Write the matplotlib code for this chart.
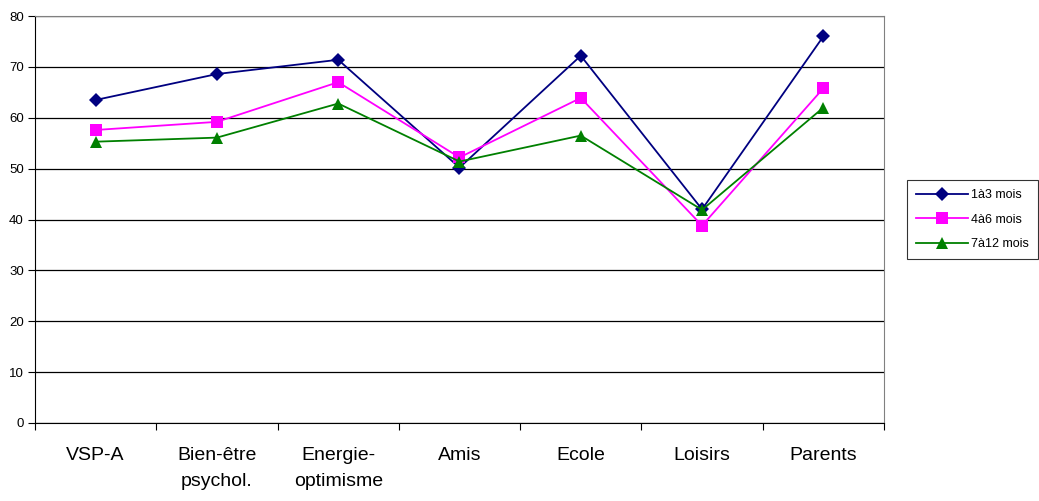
import matplotlib.pyplot as plt
import numpy as np

plt.rcParams['font.family'] = ['Liberation Sans', 'DejaVu Sans']

categories = ["VSP-A", "Bien-être\npsychol.", "Energie-\noptimisme", "Amis",
              "Ecole", "Loisirs", "Parents"]
series_names = ["1à3 mois", "4à6 mois", "7à12 mois"]
m1_3 = [63.5, 68.6, 71.4, 50.2, 72.2, 42.0, 76.0]
m4_6 = [57.6, 59.2, 67.0, 52.2, 63.9, 38.8, 65.8]
m7_12 = [55.3, 56.1, 62.8, 51.4, 56.5, 41.9, 62.0]

colors = ['#000080', '#FF00FF', '#008000']
markers = ['D', 's', '^']
msizes = [7, 9, 9]

fig = plt.figure(figsize=(10.39, 5.01), dpi=100)
ax = fig.add_axes([0.0337, 0.1557, 0.8171, 0.8123])

x = np.arange(len(categories))
for vals, name, c, m, ms in zip([m1_3, m4_6, m7_12], series_names, colors, markers, msizes):
    ax.plot(x, vals, color=c, marker=m, markersize=ms, linewidth=1.3, label=name,
            markeredgewidth=0, zorder=3)

ax.set_xlim(-0.5, len(categories) - 0.5)
ax.set_ylim(0, 80)
ax.set_yticks(range(0, 81, 10))
ax.yaxis.grid(True, color='black', linewidth=0.9)
ax.set_axisbelow(True)
ax.tick_params(axis='y', labelsize=9.5, length=5, direction='out', pad=3)

# boundary ticks as major, labels on minor ticks at category centers
ax.set_xticks(np.arange(-0.5, len(categories), 1.0))
ax.set_xticklabels([])
ax.set_xticks(x, minor=True)
ax.set_xticklabels(categories, minor=True, fontsize=14, linespacing=1.75)
ax.tick_params(axis='x', which='major', length=5, direction='out')
ax.tick_params(axis='x', which='minor', length=0, pad=17)

for side in ['top', 'right']:
    ax.spines[side].set_color('#808080')
for side in ['left', 'bottom']:
    ax.spines[side].set_color('black')

leg = ax.legend(loc='center left', bbox_to_anchor=(1.02, 0.5), fontsize=9,
                frameon=True, fancybox=False, edgecolor='black', borderpad=0.7,
                labelspacing=1.0, handlelength=4.2, handletextpad=0.2)
leg.get_frame().set_linewidth(0.8)

fig.savefig('out.png', dpi=100)
